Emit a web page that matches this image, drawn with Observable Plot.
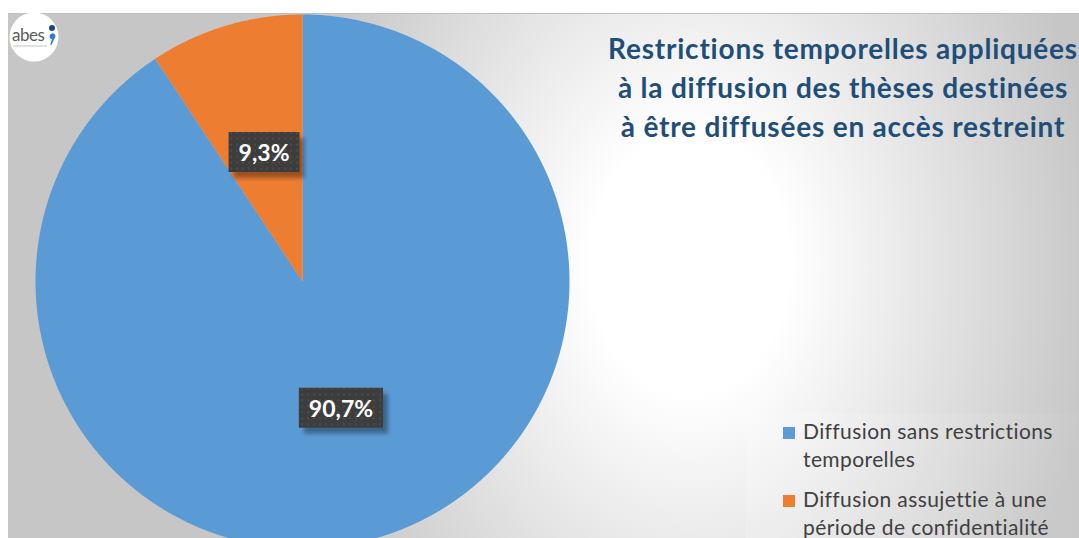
<!DOCTYPE html>
<html><head><meta charset="utf-8">
<script src="https://cdn.jsdelivr.net/npm/d3@7"></script>
<script src="https://cdn.jsdelivr.net/npm/@observablehq/plot@0.6"></script>
<style>
body{margin:0;background:#fff;}
#wrap{position:relative;width:1079px;height:538px;overflow:hidden;font-family:Lato,"Open Sans",sans-serif;}
#panel{position:absolute;left:8px;top:13px;right:0;bottom:0;background:radial-gradient(ellipse 410px 540px at 682px 250px,#ffffff 0%,#ffffff 24%,#c6c6c6 100%);border-top:1px solid #c0c0c0;}
#legbox{position:absolute;left:746px;top:413px;right:0;bottom:0;background:linear-gradient(to right,rgba(255,255,255,0.18),rgba(255,255,255,0.04));}
#chart{position:absolute;left:0;top:0;}
#title{position:absolute;left:600px;width:486px;top:29px;text-align:center;color:#1f4e79;font-weight:700;font-size:28px;letter-spacing:0.8px;line-height:39px;white-space:nowrap;}
#legend{position:absolute;left:803px;top:417px;color:#404040;font-size:21px;letter-spacing:0.4px;line-height:28px;white-space:nowrap;}
.item{position:relative;margin-bottom:12px;}
.sw{position:absolute;left:-20px;top:10px;width:12px;height:12px;}
#logo{position:absolute;left:8px;top:11px;}
</style></head>
<body>
<div id="wrap">
  <div id="panel"></div>
  <div id="legbox"></div>
  <div id="chart"></div>
  <svg id="logo" width="56" height="54">
    <circle cx="26" cy="26" r="24.5" fill="#fff"/>
    <text x="4" y="30" font-family="Lato, sans-serif" font-size="17" fill="#5a5a5a" letter-spacing="-0.5">abes</text>
    <line x1="5" y1="35" x2="39" y2="35" stroke="#c4c4c4" stroke-width="1"/>
    <circle cx="44" cy="17" r="3" fill="#1d3f8f"/>
    <path d="M41.5 25.5 a3 3 0 1 1 4.6 2.4 l-2.6 6.2 l-1.2 -0.5 l1.6 -5.3 a3 3 0 0 1 -2.4 -2.8z" fill="#2f7ad6"/>
  </svg>
  <div id="title">Restrictions temporelles appliquées<br>à la diffusion des thèses destinées<br>à être diffusées en accès restreint</div>
  <div id="legend"></div>
</div>
<script>
const categories = ["Diffusion sans restrictions temporelles", "Diffusion assujettie à une période de confidentialité"];
const legendLines = [["Diffusion sans restrictions", "temporelles"], ["Diffusion assujettie à une", "période de confidentialité"]];
const shares = [90.7, 9.3];
const shareLabels = ["90,7%", "9,3%"];
const sliceColors = ["#5B9BD5", "#ED7D31"];

const arcs = d3.pie().sort(null).value(d => d)(shares);
const slicePts = arcs.flatMap((a, i) => {
  const n = Math.max(2, Math.ceil((a.endAngle - a.startAngle) / 0.004));
  const pts = [{cat: categories[i], x: 0, y: 0}];
  for (let k = 0; k <= n; k++) {
    const t = a.startAngle + (a.endAngle - a.startAngle) * k / n;
    pts.push({cat: categories[i], x: Math.sin(t), y: Math.cos(t)});
  }
  return pts;
});
const labelPts = arcs.map((a, i) => {
  const m = (a.startAngle + a.endAngle) / 2;
  return {label: shareLabels[i], x: 0.5 * Math.sin(m), y: 0.5 * Math.cos(m)};
});

const svg = Plot.plot({
  width: 1079, height: 538, margin: 0,
  x: {domain: [-1, 1], range: [35, 569], axis: null},
  y: {domain: [-1, 1], range: [548, 14], axis: null},
  color: {domain: categories, range: sliceColors},
  style: {background: "transparent", overflow: "hidden"},
  marks: [
    Plot.line(slicePts, {x: "x", y: "y", z: "cat", fill: "cat", stroke: "none", curve: "linear-closed"}),
    Plot.text(labelPts, {x: "x", y: "y", text: "label", fill: "white", fontSize: 23, fontWeight: 700, fontFamily: "Lato, sans-serif"})
  ]
});
document.getElementById("chart").appendChild(svg);

// label boxes behind the percentage texts
const ns = "http://www.w3.org/2000/svg";
const defs = document.createElementNS(ns, "defs");
defs.innerHTML = `<pattern id="dots" width="6" height="6" patternUnits="userSpaceOnUse">
  <rect width="6" height="6" fill="#3d3d3d"/><rect x="2" y="2" width="2" height="2" fill="#4b4b4b"/></pattern>
  <filter id="blur" x="-20%" y="-20%" width="140%" height="140%"><feGaussianBlur stdDeviation="2"/></filter>`;
svg.insertBefore(defs, svg.firstChild);
const tg = svg.querySelector('g[aria-label="text"]');
tg.querySelectorAll("text").forEach(t => {
  const b = t.getBBox();
  const tr = t.getAttribute("transform");
  const w = b.width + 20, h = 40;
  const cx = b.x + b.width / 2, cy = b.y + b.height / 2;
  const mk = (dx, dy, fill, filt) => {
    const r = document.createElementNS(ns, "rect");
    r.setAttribute("x", cx - w / 2 + dx); r.setAttribute("y", cy - h / 2 + dy);
    r.setAttribute("width", w); r.setAttribute("height", h);
    r.setAttribute("fill", fill);
    if (filt) r.setAttribute("filter", filt);
    if (tr) r.setAttribute("transform", tr);
    tg.insertBefore(r, t);
  };
  mk(5, 6, "rgba(0,0,0,0.35)", "url(#blur)");
  mk(0, 0, "url(#dots)");
});

// legend
const leg = document.getElementById("legend");
categories.forEach((c, i) => {
  const d = document.createElement("div");
  d.className = "item";
  d.innerHTML = `<span class="sw" style="background:${sliceColors[i]}"></span>${legendLines[i].join("<br>")}`;
  leg.appendChild(d);
});
</script>
</body></html>
